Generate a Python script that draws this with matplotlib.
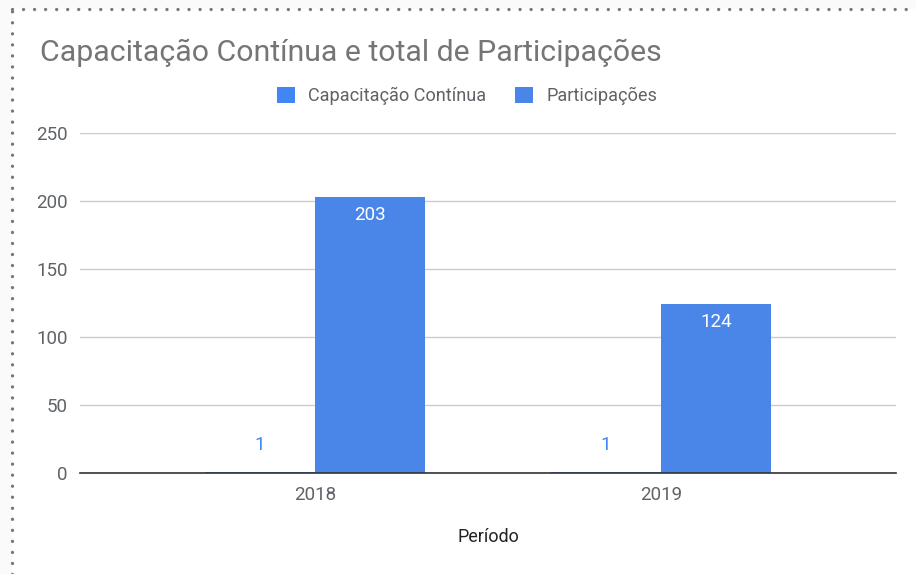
import matplotlib.pyplot as plt
import numpy as np

# Dados do gráfico
periodos = ['2018', '2019']
capacitacao = [1, 1]
participacoes = [203, 124]
series = ['Capacitação Contínua', 'Participações']
yticks = [0, 50, 100, 150, 200, 250]

cor_cap = '#4285f4'
cor_part = '#4a86e8'

plt.rcParams['font.family'] = ['Roboto', 'DejaVu Sans']

fig = plt.figure(figsize=(9.16, 5.74), dpi=100)
fig.patch.set_facecolor('#fafafa')

# fundo branco do gráfico, dentro da borda pontilhada
fundo = plt.Rectangle((12 / 916, 0), 1, 1 - 9 / 574, transform=fig.transFigure,
                      facecolor='white', edgecolor='none', zorder=-10)
fig.patches.append(fundo)
estilo_pontos = dict(transform=fig.transFigure, color='#777777', linestyle=(0, (0.01, 3.3)),
                     linewidth=2.4, dash_capstyle='round')
fig.add_artist(plt.Line2D([12 / 916, 12 / 916], [0, 1 - 9 / 574], **estilo_pontos))
fig.add_artist(plt.Line2D([12 / 916, 1], [1 - 9 / 574, 1 - 9 / 574], **estilo_pontos))

# área do plot: x 80..896, y 133..473 (pixels)
ax = fig.add_axes([80 / 916, 1 - 473 / 574, 816 / 916, 340 / 574])
ax.set_facecolor('none')

x = np.arange(len(periodos))
largura = 0.318

b1 = ax.bar(x - largura / 2, capacitacao, largura, color=cor_cap, label=series[0], zorder=3)
b2 = ax.bar(x + largura / 2, participacoes, largura, color=cor_part, label=series[1], zorder=3)

for xi, v in zip(x, capacitacao):
    ax.text(xi - largura / 2, v + 13, str(v), ha='center', va='bottom',
            color=cor_cap, fontsize=13.5)
for xi, v in zip(x, participacoes):
    ax.text(xi + largura / 2, v - 6.5, str(v), ha='center', va='top',
            color='white', fontsize=13.5)

ax.set_xlim(-0.68, 1.68)
ax.set_ylim(0, 250)
ax.set_yticks(yticks)
ax.set_xticks(x)
ax.set_xticklabels(periodos)
ax.tick_params(axis='both', length=0, labelsize=13.5, labelcolor='#5f6368')
ax.tick_params(axis='y', pad=9)
ax.tick_params(axis='x', pad=9)
ax.grid(axis='y', color='#cccccc', linewidth=1, zorder=0)
for lado in ['top', 'right', 'left']:
    ax.spines[lado].set_visible(False)
ax.spines['bottom'].set_color('#333333')
ax.spines['bottom'].set_linewidth(1.2)
ax.spines['bottom'].set_zorder(4)

ax.set_xlabel('Período', fontsize=13, color='#222222', labelpad=18)

fig.text(40 / 916, 1 - 53 / 574, 'Capacitação Contínua e total de Participações',
         fontsize=21.8, color='#757575', va='center', ha='left')

fig.legend(handles=[b1, b2], labels=series, loc='center', bbox_to_anchor=(467 / 916, 1 - 96 / 574),
           ncol=2, frameon=False, fontsize=13.1, handlelength=1.0, handleheight=1.0,
           columnspacing=1.6, handletextpad=0.7, labelcolor='#5f6368')

fig.savefig('out.png', dpi=100, facecolor=fig.get_facecolor())
